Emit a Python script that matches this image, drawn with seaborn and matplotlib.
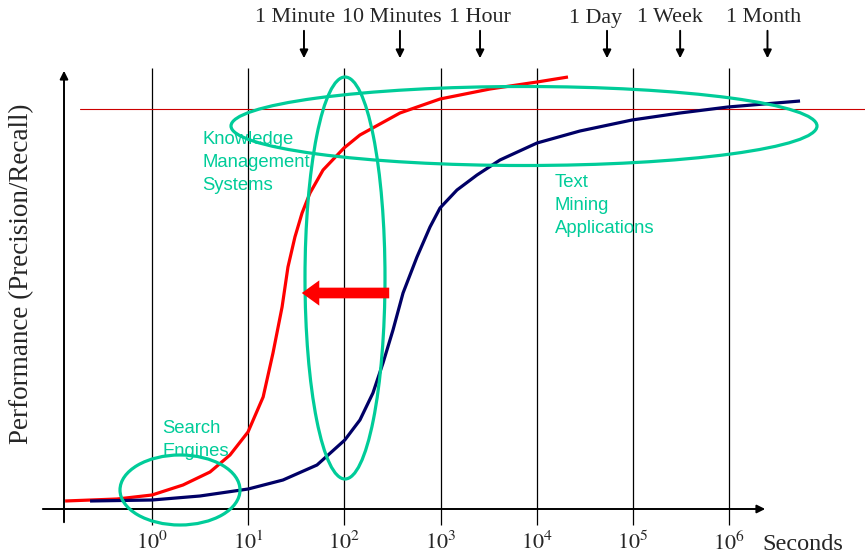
import numpy as np
import pandas as pd
import seaborn as sns
import matplotlib.pyplot as plt
from matplotlib.patches import Ellipse

# curve samples: seconds vs performance (1.0 = reference line)
red_seconds = [0.125, 0.433, 1.0, 2.10, 4.01, 6.47, 9.95, 14.3, 18.1, 22.5, 25.9, 30.6, 36.3, 43.9,
               60.0, 99.0, 145, 378, 986, 3260, 10050, 21100]
red_perf = [0.02, 0.025, 0.035, 0.06, 0.0925, 0.135, 0.1925, 0.28, 0.39, 0.505, 0.605, 0.68, 0.74, 0.79,
            0.8475, 0.9025, 0.935, 0.99, 1.025, 1.05, 1.0675, 1.08]

navy_seconds = [0.227, 1.0, 3.15, 10, 23.0, 51.9, 101, 145, 198, 252, 320, 407, 568, 776, 986,
                1480, 2390, 4140, 10050, 28100, 97700, 308000, 972000, 5450000]
navy_perf = [0.02, 0.0225, 0.0325, 0.05, 0.0725, 0.11, 0.1725, 0.2225, 0.29, 0.365, 0.4475, 0.54, 0.63,
             0.705, 0.7525, 0.7975, 0.835, 0.8725, 0.915, 0.945, 0.9725, 0.99, 1.005, 1.02]

decades = [1, 10, 100, 1000, 10000, 100000, 1000000]
decade_labels = [r'$10^{0}$', r'$10^{1}$', r'$10^{2}$', r'$10^{3}$', r'$10^{4}$', r'$10^{5}$', r'$10^{6}$']

time_marks = [38, 378, 2570, 53700, 309000, 2500000]
time_labels = ['1 Minute', '10 Minutes', '1 Hour', '1 Day', '1 Week', '1 Month']
time_label_x = [31, 310, 2550, 41000, 240000, 2300000]

sns.set_theme(style='white')
plt.rcParams['font.family'] = ['Liberation Serif', 'DejaVu Serif']
plt.rcParams['mathtext.fontset'] = 'stix'

W, H = 865, 560
fig = plt.figure(figsize=(W / 100, H / 100), dpi=100)
ax = fig.add_axes([0, 0, 1, 1])
ax.set_xscale('log')
# pixel layout: 10^0 at x=152, 96.2 px per decade; y=0 at 509 px, 400 px per unit
ax.set_xlim(10 ** (-152 / 96.2), 10 ** ((W - 152) / 96.2))
ax.set_ylim((509 - H) / 400, 509 / 400)
ax.axis('off')

green = '#00CC99'

# vertical decade lines
ax.vlines(decades, -0.04, 1.1025, color='black', lw=0.9, zorder=1)

# thin reference line
ax.axhline(1.0, xmin=80 / W, xmax=1, color='#CC0000', lw=0.8, zorder=1)

# axes with arrows
ax.annotate('', xy=(2.53e6, 0), xytext=(0.0686, 0),
            arrowprops=dict(arrowstyle='-|>', lw=1.4, color='black', mutation_scale=12), zorder=2)
ax.annotate('', xy=(0.1217, 1.1025), xytext=(0.1217, -0.04),
            arrowprops=dict(arrowstyle='-|>', lw=1.4, color='black', mutation_scale=12), zorder=2)

df = pd.concat([
    pd.DataFrame({'seconds': red_seconds, 'perf': red_perf, 'system': 'new'}),
    pd.DataFrame({'seconds': navy_seconds, 'perf': navy_perf, 'system': 'old'}),
])
sns.lineplot(data=df, x='seconds', y='perf', hue='system', palette={'new': '#FF0000', 'old': '#000066'},
             sort=False, estimator=None, legend=False, lw=2.3, ax=ax, zorder=3,
             solid_joinstyle='round', solid_capstyle='butt')

# green ellipses (pixel layout: cx, cy, w, h)
for cx, cy, w, h in [(180, 490, 120, 70), (345, 278, 80, 402), (524, 126, 586, 79)]:
    ax.add_patch(Ellipse((cx / W, 1 - cy / H), w / W, h / H, transform=fig.transFigure,
                         fill=False, ec=green, lw=2.3, zorder=4))

# red shift arrow
ax.annotate('', xy=(299, H - 293), xycoords='figure pixels', xytext=(392, H - 293), textcoords='figure pixels',
            arrowprops=dict(arrowstyle='simple,head_length=0.9,head_width=1.3,tail_width=0.55',
                            color='#FF0000', mutation_scale=14, lw=0), zorder=5)

sans = ['Liberation Sans', 'DejaVu Sans']
fig.text(202 / W, 1 - 131 / H, 'Knowledge\nManagement\nSystems', color=green, fontsize=13.3,
         family=sans, va='top', ha='left', linespacing=1.45)
fig.text(162 / W, 1 - 420 / H, 'Search\nEngines', color=green, fontsize=13.3,
         family=sans, va='top', ha='left', linespacing=1.45)
fig.text(555 / W, 1 - 174 / H, 'Text\nMining\nApplications', color=green, fontsize=13.3,
         family=sans, va='top', ha='left', linespacing=1.45)

# top time markers
for xm, xl, lab in zip(time_marks, time_label_x, time_labels):
    ax.annotate('', xy=(xm, 1 - 61 / H), xycoords=('data', 'axes fraction'),
                xytext=(xm, 1 - 28 / H), textcoords=('data', 'axes fraction'),
                arrowprops=dict(arrowstyle='-|>', lw=1.4, color='black', mutation_scale=12))
    ax.text(xl, 1 - 18 / H, lab, transform=ax.get_xaxis_transform(), ha='center', va='center', fontsize=15.8)

# decade tick labels
for d, lab in zip(decades, decade_labels):
    ax.text(d, 1 - 543 / H, lab, transform=ax.get_xaxis_transform(), ha='center', va='center', fontsize=16)
fig.text(762 / W, 1 - 545 / H, 'Seconds', ha='left', va='center', fontsize=17.5)

fig.text(22 / W, 1 - 274 / H, 'Performance (Precision/Recall)', rotation=90, ha='center', va='center', fontsize=19.5)

fig.savefig('out.png', dpi=100)
